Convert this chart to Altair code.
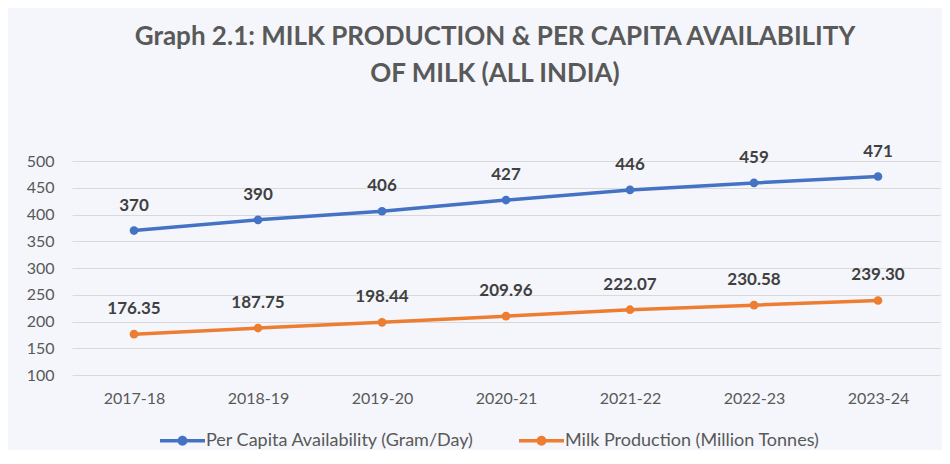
import altair as alt
import pandas as pd

years = ["2017-18", "2018-19", "2019-20", "2020-21", "2021-22", "2022-23", "2023-24"]
per_capita = [370, 390, 406, 427, 446, 459, 471]
milk_production = [176.35, 187.75, 198.44, 209.96, 222.07, 230.58, 239.30]
series_names = ["Per Capita Availability (Gram/Day)", "Milk Production (Million Tonnes)"]
series_colors = ["#4472C4", "#ED7D31"]
y_ticks = [100, 150, 200, 250, 300, 350, 400, 450, 500]

rows = []
for y, v in zip(years, per_capita):
    rows.append({"year": y, "value": v, "series": series_names[0], "label": f"{v:d}"})
for y, v in zip(years, milk_production):
    rows.append({"year": y, "value": v, "series": series_names[1], "label": f"{v:.2f}"})
df = pd.DataFrame(rows)

FONT = "Lato"
legend_path = ("M-1,-0.075L1,-0.075L1,0.075L-1,0.075Z"
               "M-0.22,0A0.22,0.22 0 1,1 0.22,0A0.22,0.22 0 1,1 -0.22,0Z")

x_enc = alt.X("year:N", sort=years, scale=alt.Scale(type="point", padding=0.5),
              axis=alt.Axis(title=None, labelAngle=0, ticks=False, domain=False, grid=False,
                            labelPadding=15, labelFontSize=16, labelColor="#595959", labelFont=FONT))
y_enc = alt.Y("value:Q", scale=alt.Scale(domain=[100, 500], nice=False, zero=False),
              axis=alt.Axis(title=None, values=y_ticks, ticks=False, domain=False, grid=True,
                            gridColor="#d9d9d9", gridWidth=1, labelPadding=18,
                            labelFontSize=16, labelColor="#595959", labelFont=FONT))

base = alt.Chart(df)

lines = [
    base.transform_filter(alt.datum.series == name)
    .mark_line(strokeWidth=3.5, color=col)
    .encode(x=x_enc, y=y_enc)
    for name, col in zip(series_names, series_colors)
]

points = base.mark_point(filled=True, size=75, opacity=1).encode(
    x=x_enc, y=y_enc,
    color=alt.Color("series:N", sort=series_names,
                    scale=alt.Scale(domain=series_names, range=series_colors),
                    legend=alt.Legend(title=None, orient="none", legendX=88, legendY=257,
                                      direction="horizontal", symbolType=legend_path,
                                      symbolSize=2025, symbolStrokeWidth=0,
                                      labelFontSize=18, labelColor="#595959", labelFont=FONT,
                                      labelOffset=1, columnPadding=44, labelLimit=400)),
)

labels = base.mark_text(dy=-25, fontSize=17, fontWeight="bold", color="#404040", font=FONT).encode(
    x=x_enc, y=y_enc, text="label:N"
)

chart = alt.layer(*lines, points, labels).properties(
    width=868, height=214,
    autosize=alt.AutoSizeParams(type="none"),
    padding={"left": 64, "top": 153, "right": 2, "bottom": 75},
    background="#f4f6fb",
    title=alt.Title(["Graph 2.1: MILK PRODUCTION & PER CAPITA AVAILABILITY", "OF MILK (ALL INDIA)"],
                    font=FONT, fontSize=26, fontWeight="bold", color="#595959",
                    anchor="middle", offset=56, lineHeight=37, dx=-11),
).configure_view(stroke=None)

chart.save("out.html", embed_options={"renderer": "svg", "actions": False})
